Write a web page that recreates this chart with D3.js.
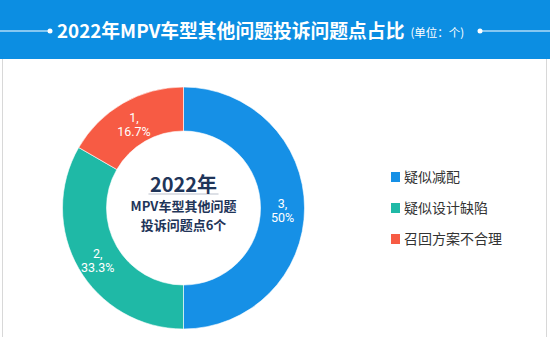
<!DOCTYPE html>
<html>
<head>
<meta charset="utf-8">
<script src="https://cdn.jsdelivr.net/npm/d3@7"></script>
<style>
  body { margin: 0; background: #fff; }
  svg { display: block; font-family: "Noto Sans CJK SC", "Noto Sans", sans-serif; }
</style>
</head>
<body>
<div id="chart"></div>
<script>
// données
const categories = ['疑似减配', '疑似设计缺陷', '召回方案不合理']
const valeurs = [3, 2, 1]
const pourcentages = ['50%', '33.3%', '16.7%']
const couleurs = ['#1690e6', '#1fb9a6', '#f75b44']

const width = 550, height = 337

const svg = d3.select('#chart').append('svg')
    .attr('width', width)
    .attr('height', height)

// bandeau du titre
svg.append('rect').attr('x', 0).attr('y', 0).attr('width', width).attr('height', 59).attr('fill', '#0c8ee2')
svg.append('rect').attr('x', 0).attr('y', 59).attr('width', width).attr('height', height - 59).attr('fill', '#fff')
svg.append('line').attr('x1', 2.5).attr('x2', 2.5).attr('y1', 59).attr('y2', height).attr('stroke', '#d8d8d8')
svg.append('line').attr('x1', 546.5).attr('x2', 546.5).attr('y1', 59).attr('y2', height).attr('stroke', '#d8d8d8')

const titre = svg.append('text')
    .attr('x', 57).attr('y', 38)
    .attr('fill', '#fff')
titre.append('tspan').attr('font-size', 18.8).attr('font-weight', 'bold').text('2022年MPV车型其他问题投诉问题点占比')
titre.append('tspan').attr('font-size', 11.5).attr('dx', 6).attr('dy', -1).text('(单位：个)')

svg.append('line').attr('x1', 0).attr('x2', 48).attr('y1', 31).attr('y2', 31).attr('stroke', '#fff').attr('stroke-width', 1.2)
svg.append('circle').attr('cx', 50).attr('cy', 31).attr('r', 2.5).attr('fill', '#fff')
svg.append('line').attr('x1', 482).attr('x2', width).attr('y1', 31).attr('y2', 31).attr('stroke', '#fff').attr('stroke-width', 1.2)
svg.append('circle').attr('cx', 480).attr('cy', 31).attr('r', 2.5).attr('fill', '#fff')

// anneau
const cx = 183.5, cy = 208
const rExt = 121, rInt = 77

const pie = d3.pie().sort(null).value(d => d)
const arcs = pie(valeurs)
const arc = d3.arc().innerRadius(rInt).outerRadius(rExt)
const arcLabel = d3.arc().innerRadius(99).outerRadius(99)

const g = svg.append('g').attr('transform', `translate(${cx},${cy})`)

g.selectAll('path')
    .data(arcs)
    .enter()
    .append('path')
    .attr('d', arc)
    .attr('fill', (d, i) => couleurs[i])
    .attr('stroke', '#fff')
    .attr('stroke-width', 0.6)

const etiquettes = g.selectAll('.etiquette')
    .data(arcs)
    .enter()
    .append('text')
    .attr('class', 'etiquette')
    .attr('transform', d => {
        const c = arcLabel.centroid(d)
        return `translate(${c[0]},${c[1] + 4})`
    })
    .attr('text-anchor', 'middle')
    .attr('fill', '#fff')
    .attr('font-size', 12.5)
    .attr('font-family', 'Roboto, "Noto Sans", sans-serif')
etiquettes.append('tspan').attr('x', 0).attr('dy', -4).text(d => d.data + ',')
etiquettes.append('tspan').attr('x', 0).attr('dy', 14).text((d, i) => pourcentages[i])

// texte central
const centre = g.append('g').attr('fill', '#1f3559').attr('text-anchor', 'middle').attr('font-weight', 'bold')
centre.append('text').attr('x', 0).attr('y', -16.5).attr('font-size', 20).text('2022年')
centre.append('line').attr('x1', -35).attr('x2', 35).attr('y1', -14).attr('y2', -14).attr('stroke', '#1f3559').attr('stroke-width', 0.5).attr('opacity', 0.6)
centre.append('text').attr('x', 0).attr('y', 2.5).attr('font-size', 13).text('MPV车型其他问题')
centre.append('text').attr('x', 0).attr('y', 21.5).attr('font-size', 13).text('投诉问题点6个')

// légende
const legende = svg.append('g').attr('transform', 'translate(391,177)')
const lignes = legende.selectAll('g')
    .data(categories)
    .enter()
    .append('g')
    .attr('transform', (d, i) => `translate(0,${i * 31})`)
lignes.append('rect').attr('x', 0).attr('y', -5).attr('width', 9).attr('height', 10).attr('fill', (d, i) => couleurs[i])
lignes.append('text').attr('x', 13).attr('y', 5).attr('font-size', 14).attr('fill', '#333').text(d => d)
</script>
</body>
</html>
